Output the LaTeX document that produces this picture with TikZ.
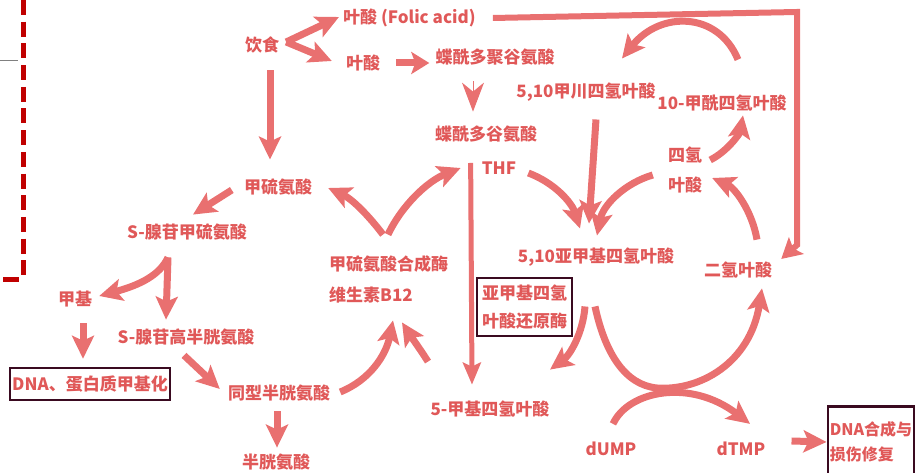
\documentclass[tikz,border=0pt]{standalone}
\usepackage{fontspec}
\setmainfont{Noto Sans CJK SC}
\usetikzlibrary{arrows.meta,calc}
\definecolor{arr}{HTML}{E97070}
\definecolor{txt}{HTML}{E05858}
\definecolor{edge}{HTML}{3A0A20}
\definecolor{markred}{HTML}{C00000}

\begin{document}
\begin{tikzpicture}[x=1pt, y=1pt, txt,
  >={Stealth[length=23pt,width=22pt,inset=5pt]},
  flow/.style={->, line width=7pt, draw=arr},
  thinflow/.style={-{Stealth[length=22pt,width=18pt,inset=4pt]}, line width=5pt, draw=arr},
  lab/.style={font=\fontsize{17}{21}\selectfont\bfseries, text=txt, inner sep=1pt, align=center},
  boxlab/.style={lab, draw=edge, line width=2.5pt, inner sep=2pt}]

\useasboundingbox (0,0) rectangle (916,473);

% page marks
\draw[draw=markred, line width=5pt, dash pattern=on 15pt off 6.7pt] (23,473) -- (23,196);
\draw[draw=markred, line width=5pt] (3,193.5) -- (19,193.5);
\draw[gray, line width=1pt] (0,412) -- (18,412);

% folate side
\node[lab] (diet) at (262,428) {饮食};
\node[lab, anchor=west] (folicA) at (342,455) {叶酸 (Folic acid)};
\node[lab] (folicB) at (363,410) {叶酸};
\node[lab] (ptpoly) at (495,416) {蝶酰多聚谷氨酸};
\node[lab] (ptglu) at (486,339) {蝶酰多谷氨酸};
\node[lab] (thf) at (499,305) {THF};
\node[lab] (methenyl) at (586,381) {5,10甲川四氢叶酸};
\node[lab] (formyl) at (722,370) {10-甲酰四氢叶酸};
\node[lab] (thfa) at (685,303) {四氢\\[9pt]叶酸};
\node[lab] (methylene) at (596,216) {5,10亚甲基四氢叶酸};
\node[lab] (dhf) at (738,203) {二氢叶酸};
\node[boxlab, minimum width=95pt, minimum height=58pt] (mthfr) at (524.5,166) {亚甲基四氢\\[7pt]叶酸还原酶};
\node[lab] (mthf) at (490,64) {5-甲基四氢叶酸};
\node[lab] (dump) at (611,24) {dUMP};
\node[lab] (dtmp) at (741,24) {dTMP};
\node[boxlab, font=\fontsize{16}{21}\selectfont\bfseries, align=left, minimum width=82pt, minimum height=70pt] (dnasyn) at (871,31.5) {DNA合成与\\[4pt]损伤修复};

% methionine side
\node[lab] (met) at (278,286) {甲硫氨酸};
\node[lab] (sam) at (187,241) {S-腺苷甲硫氨酸};
\node[lab, anchor=west, align=left] (synth) at (328,193.5) {甲硫氨酸合成酶\\[10pt]维生素B12};
\node[lab] (methyl) at (75,174) {甲基};
\node[lab] (sah) at (186,136) {S-腺苷高半胱氨酸};
\node[boxlab, minimum width=160pt, minimum height=32pt] (dnamet) at (90,89) {DNA、蛋白质甲基化};
\node[lab] (hcy) at (279,80) {同型半胱氨酸};
\node[lab] (cys) at (276,11) {半胱氨酸};

% diet and folic acid
\coordinate (fork) at ($(diet.east)+(6,3)$);
\draw[flow] (fork) -- ($(folicA.west)+(-3,1)$);
\draw[flow] (fork) -- ($(folicB.west)+(-13,2)$);
\draw[flow, -{Stealth[length=18pt,width=22pt,inset=4pt]}] ($(folicB.east)+(15,0)$) -- ($(ptpoly.west)+(-5,-6)$);
\draw[-{Stealth[length=29pt,width=22pt,inset=9pt]}, line width=1pt, arr]
  ($(ptpoly.south)+(-22,-15)$) -- ($(ptglu.north)+(-13,13)$);
\coordinate (corner) at (797,461);
\draw[line width=6pt, arr, -{Stealth[length=20pt,width=22pt,inset=4pt]}]
  ($(folicA.east)+(16,0)$) -- (corner) -- ++(0,-233) -- ($(dhf.east)+(8,11)$);

% one-carbon cycle
\draw[thinflow] ($(thf.west)+(-10,5)$) -- ($(mthf.north)+(-18,15)$);
\draw[flow] ($(thf.east)+(11,-5)$) .. controls (555,290) and (572,270) .. ($(methylene.north)+(-16,18)$);
\draw[flow] ($(methenyl.south)+(10,-17)$) -- ($(methylene.north)+(-7,23)$);
\draw[flow] ($(thfa.west)+(-14,-5)$) .. controls (625,290) and (603,268) .. ($(methylene.north)+(1,11)$);
\draw[flow] ($(thfa.east)+(7,10)$) .. controls (728,322) and (740,340) .. ($(formyl.south)+(21,-3)$);
\draw[flow] ($(formyl.north)+(16,34)$) .. controls (718,462) and (660,462) .. ($(methenyl.north)+(36,23)$);
\draw[flow] ($(dhf.north)+(19,21)$) .. controls (752,262) and (735,285) .. ($(thfa.east)+(9,-8)$);
\draw[flow] ($(methylene.south)+(-11,-39)$) .. controls (583,140) and (570,118) .. ($(mthf.north)+(60,30)$);

% thymidylate
\draw[flow] ($(methylene.south)+(-1,-39)$) .. controls (605,120) and (625,88) .. (657,85)
  .. controls (700,82) and (750,110) .. ($(dhf.south)+(24,-9)$);
\draw[flow] ($(dump.north)+(2,17)$) .. controls (628,82) and (690,95) .. ($(dtmp.north)+(9,17)$);
\draw[flow] ($(dtmp.east)+(25,8)$) -- ($(dnasyn.west)+(0,-0.5)$);

% methionine cycle
\draw[flow] ($(diet.south)+(8,-16)$) -- ($(met.north)+(-8,18)$);
\draw[flow] ($(met.west)+(-11,-3)$) -- ($(sam.north)+(6,8)$);
\coordinate (samfork) at ($(sam.south)+(-19,-16)$);
\draw[flow] (samfork) .. controls (160,198) and (140,188) .. ($(methyl.east)+(6,3)$);
\draw[flow] (samfork) -- ($(sah.north)+(-20,8)$);
\draw[flow] ($(methyl.south)+(8,-15)$) -- ($(dnamet.north)+(-7,8)$);
\draw[flow] ($(sah.south)+(-2,-9)$) -- ($(hcy.west)+(-7,4)$);
\draw[flow] ($(hcy.south)+(-2,-9)$) -- ($(cys.north)+(1,5)$);
\draw[flow] ($(hcy.east)+(9,1)$) .. controls (370,93) and (386,118) .. ($(synth.south west)+(65,-16)$);
\draw[flow] ($(mthf.north)+(-62,38)$) .. controls (420,124) and (410,138) .. ($(synth.south west)+(74,-18)$);
\draw[flow] ($(synth.north west)+(55,20)$) .. controls (365,262) and (350,275) .. ($(met.east)+(15,-1)$);
\draw[flow] ($(synth.north west)+(60,20)$) .. controls (402,268) and (428,292) .. ($(thf.west)+(-20,0)$);

\end{tikzpicture}
\end{document}
